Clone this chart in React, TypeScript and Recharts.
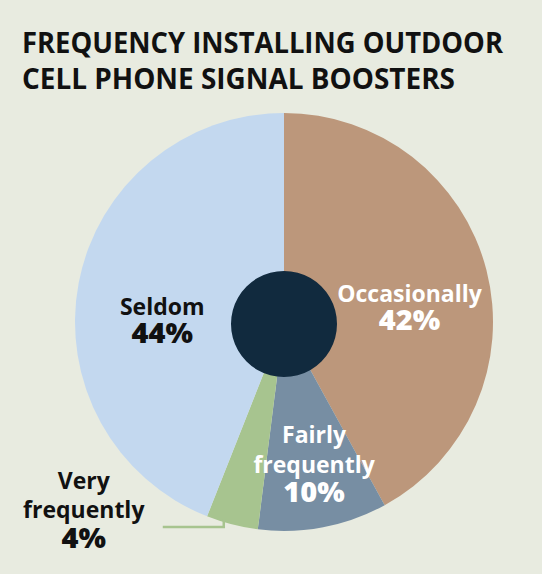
import React from 'react';
import { PieChart, Pie, Cell } from 'recharts';

const categories = ['Occasionally', 'Fairly frequently', 'Very frequently', 'Seldom'];
const shares = [42, 10, 4, 44];
const sliceColors = ['#bc977b', '#778ea3', '#a7c48f', '#c3d8ef'];
const titleLines = ['FREQUENCY INSTALLING OUTDOOR', 'CELL PHONE SIGNAL BOOSTERS'];

const data = categories.map((name, i) => ({ name, value: shares[i] }));

const BG = '#e8ebe0';
const FONT = '"Open Sans", "Noto Sans", sans-serif';

// label text lines per category, and where they sit relative to the slice
const labelLines: Record<string, string[]> = {
  Occasionally: ['Occasionally'],
  'Fairly frequently': ['Fairly', 'frequently'],
  'Very frequently': ['Very', 'frequently'],
  Seldom: ['Seldom'],
};
const labelPlace: Record<string, { r: number; dx: number; dy: number; lineH: number; color: string }> = {
  Occasionally: { r: 127, dx: 2.5, dy: 11.5, lineH: 28, color: '#ffffff' },
  'Fairly frequently': { r: 150, dx: 2, dy: -26, lineH: 29.5, color: '#ffffff' },
  'Very frequently': { r: 0, dx: 0, dy: 0, lineH: 29.5, color: '#111111' },
  Seldom: { r: 127, dx: 3, dy: 17, lineH: 28, color: '#111111' },
};

const RAD = Math.PI / 180;
const NAME_SIZE = 23;
const PCT_SIZE = 29;

function SliceLabel(props: any) {
  const { cx, cy, midAngle, outerRadius, name, value } = props;
  const lines = labelLines[name] || [name];
  const place = labelPlace[name];
  const pct = `${value}%`;

  if (name === 'Very frequently') {
    // leader line from the slice's outer edge, down then left
    const a = (midAngle - 2.6) * RAD;
    const x0 = cx + (outerRadius - 3) * Math.cos(a);
    const y0 = cy - (outerRadius - 3) * Math.sin(a);
    const yLine = y0 + 8;
    const xEnd = x0 - 61;
    const tx = xEnd - 79;
    return (
      <g>
        <polyline
          points={`${x0},${y0} ${x0},${yLine} ${xEnd},${yLine}`}
          fill="none"
          stroke="#a7c48f"
          strokeWidth={2.5}
        />
        <text textAnchor="middle" fill={place.color} fontFamily={FONT}>
          <tspan x={tx} y={yLine - 38} fontSize={NAME_SIZE} fontWeight={700}>{lines[0]}</tspan>
          <tspan x={tx} y={yLine - 9} fontSize={NAME_SIZE} fontWeight={700}>{lines[1]}</tspan>
          <tspan x={tx} y={yLine + 21} fontSize={PCT_SIZE} fontWeight={800}>{pct}</tspan>
        </text>
      </g>
    );
  }

  const mx = cx + place.r * Math.cos(-midAngle * RAD) + place.dx;
  const firstY = cy + place.r * Math.sin(-midAngle * RAD) + place.dy;
  return (
    <text textAnchor="middle" fill={place.color} fontFamily={FONT}>
      {lines.map((l, i) => (
        <tspan key={l} x={mx} y={firstY + i * place.lineH} fontSize={NAME_SIZE} fontWeight={700}>
          {l}
        </tspan>
      ))}
      <tspan x={mx} y={firstY + lines.length * place.lineH} fontSize={PCT_SIZE} fontWeight={800}>
        {pct}
      </tspan>
    </text>
  );
}

export default function App() {
  return (
    <div
      style={{
        position: 'fixed',
        left: 0,
        top: 0,
        width: 542,
        height: 574,
        background: BG,
        overflow: 'hidden',
      }}
    >
      <svg width={542} height={120} style={{ position: 'absolute', left: 0, top: 0 }}>
        <text
          x={22}
          y={53}
          fontFamily={FONT}
          fontWeight={700}
          fontSize={29}
          fill="#111111"
          textLength={481}
          lengthAdjust="spacingAndGlyphs"
        >
          {titleLines[0]}
        </text>
        <text
          x={22}
          y={89}
          fontFamily={FONT}
          fontWeight={700}
          fontSize={29}
          fill="#111111"
          textLength={433}
          lengthAdjust="spacingAndGlyphs"
        >
          {titleLines[1]}
        </text>
      </svg>
      <div style={{ position: 'absolute', left: 0, top: 0 }}>
        <PieChart width={542} height={574} margin={{ top: 0, right: 0, bottom: 0, left: 0 }}>
          <Pie
            data={data}
            dataKey="value"
            nameKey="name"
            cx={284}
            cy={322}
            outerRadius={209}
            startAngle={90}
            endAngle={-270}
            stroke="none"
            label={SliceLabel}
            labelLine={false}
            isAnimationActive={false}
          >
            {data.map((d, i) => (
              <Cell key={d.name} fill={sliceColors[i]} />
            ))}
          </Pie>
          <Pie
            data={[{ name: 'hub', value: 1 }]}
            dataKey="value"
            cx={284}
            cy={324}
            outerRadius={53}
            fill="#112a3e"
            stroke="none"
            isAnimationActive={false}
          />
        </PieChart>
      </div>
    </div>
  );
}
